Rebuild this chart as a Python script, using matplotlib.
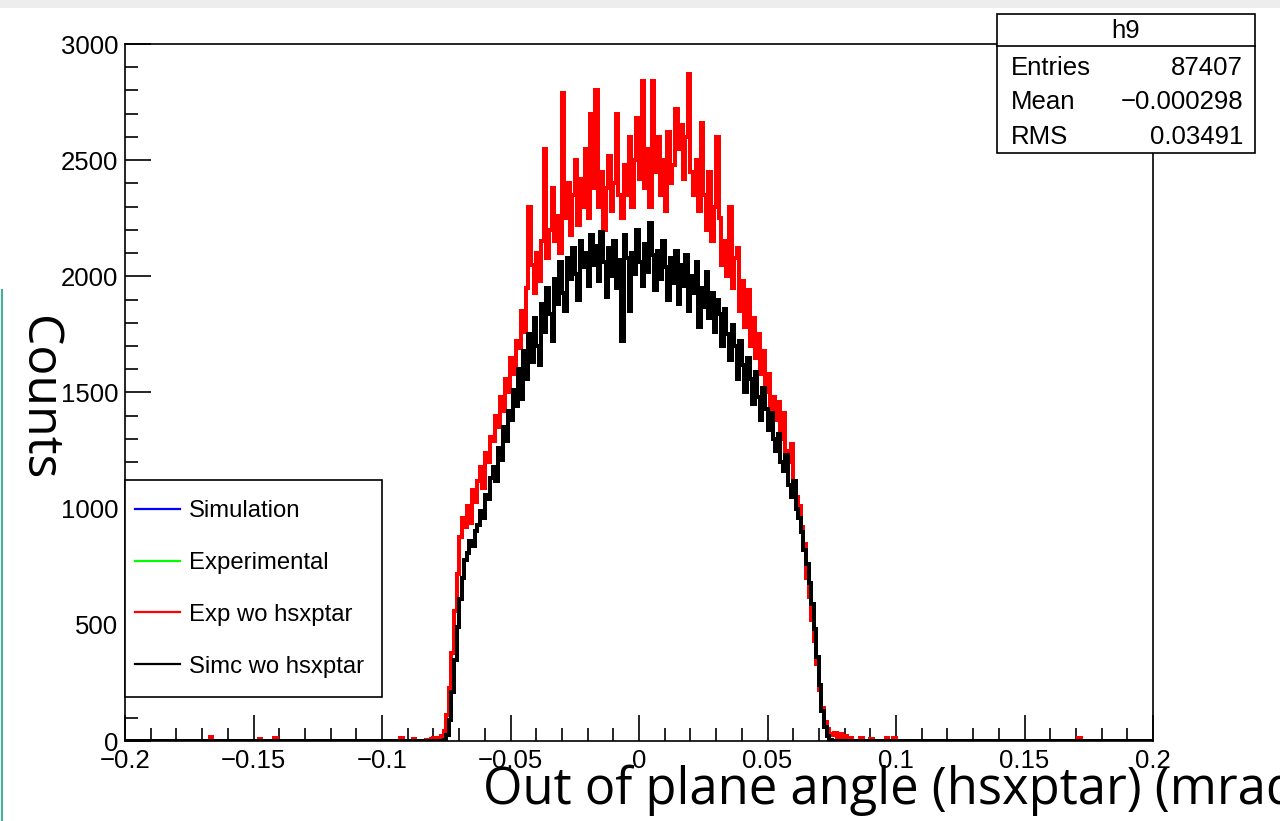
import numpy as np
import matplotlib
matplotlib.use("Agg")
import matplotlib.pyplot as plt
from matplotlib.lines import Line2D
from matplotlib.patches import Rectangle
from matplotlib.ticker import MultipleLocator, FixedLocator, FixedFormatter

W, H = 1280, 821

# ROOT style binning: 400 bins over [-0.2, 0.2]
x_min, x_max, n_bins = -0.2, 0.2, 400

# "Simc wo hsxptar" (black), consecutive bins starting at low edge -0.077
simc_start = -0.077
simc_counts = [
    0, 4, 25, 90, 210, 350, 490, 610, 700, 780,
    810, 860, 840, 905, 930, 990, 960, 1060, 1040, 1130,
    1180, 1120, 1260, 1210, 1350, 1290, 1420, 1380, 1510, 1440,
    1600, 1470, 1680, 1560, 1750, 1630, 1820, 1700, 1620, 1880,
    1760, 1950, 1840, 1720, 1990, 1880, 2060, 1930, 1850, 2080,
    1990, 2120, 2010, 1900, 2150, 2040, 2100, 1960, 2180, 2050,
    2130, 1980, 2190, 2060, 1910, 2120, 2000, 2150, 1950, 2070,
    1720, 2180, 2080, 1850, 2100, 2010, 2200, 2060, 1960, 2140,
    2020, 2230, 2090, 1940, 2110, 1990, 2150, 2040, 1900, 2080,
    1970, 2110, 1880, 2050, 1960, 2090, 1850, 2000, 1930, 2060,
    1780, 1950, 1870, 2020, 1820, 1930, 1760, 1900, 1840, 1700,
    1860, 1750, 1640, 1790, 1700, 1560, 1720, 1620, 1500, 1650,
    1560, 1450, 1590, 1480, 1380, 1520, 1430, 1340, 1410, 1300,
    1250, 1320, 1200, 1160, 1230, 1100, 1050, 1120, 1000, 960,
    900, 820, 760, 680, 590, 480, 360, 240, 130, 60, 20, 5,
]

# "Exp wo hsxptar" (red), consecutive bins starting at low edge -0.083
exp_start = -0.083
exp_counts = [
    5, 0, 8, 12, 6, 15,
    20, 45, 110, 230, 380, 560, 720, 880, 960, 920,
    1010, 940, 1080, 1030, 1120, 1180, 1090, 1240, 1200, 1310,
    1290, 1400, 1350, 1480, 1420, 1560, 1500, 1650, 1580, 1720,
    1690, 1850, 1760, 1950, 2300, 2050, 1930, 2100, 1980, 2150,
    2550, 2080, 2200, 2380, 2150, 2260, 2100, 2790, 2250, 2400,
    2180, 2350, 2500, 2220, 2420, 2300, 2550, 2250, 2700, 2380,
    2800, 2300, 2450, 2200, 2380, 2520, 2280, 2400, 2700, 2350,
    2250, 2480, 2350, 2600, 2300, 2500, 2680, 2420, 2840, 2380,
    2550, 2300, 2840, 2450, 2600, 2350, 2500, 2280, 2620, 2400,
    2480, 2720, 2550, 2650, 2420, 2600, 2870, 2450, 2350, 2500,
    2280, 2660, 2350, 2200, 2450, 2150, 2300, 2600, 2250, 2050,
    2150, 2000, 2300, 1950, 2080, 2120, 1850, 1980, 1780, 1940,
    1700, 1820, 1650, 1750, 1580, 1680, 1500, 1580, 1420, 1480,
    1380, 1460, 1300, 1410, 1250, 1200, 1280, 1100, 1050, 1010,
    920, 850, 700, 620, 520, 430, 330, 220, 140, 80, 50, 30,
    25, 35, 15, 30, 10, 20, 0, 12,
]

# isolated low entries of the red histogram (bin low edge, count)
exp_tail_edges = [-0.167, -0.148, -0.142, -0.093, -0.088, 0.086, 0.090, 0.096, 0.099, 0.171]
exp_tail_counts = [18, 8, 15, 15, 10, 15, 10, 12, 15, 12]

legend_labels = ["Simulation", "Experimental", "Exp wo hsxptar", "Simc wo hsxptar"]
legend_colors = ["#0000ff", "#00ff00", "#ff0000", "#000000"]

stats_title = "h9"
stats_names = ["Entries", "Mean", "RMS"]
stats_values = ["87407", "\u22120.000298", "0.03491"]

xticks = [-0.2, -0.15, -0.1, -0.05, 0.0, 0.05, 0.1, 0.15, 0.2]
xtick_labels = ["\u22120.2", "\u22120.15", "\u22120.1", "\u22120.05", "0", "0.05", "0.1", "0.15", "0.2"]
yticks = [0, 500, 1000, 1500, 2000, 2500, 3000]
ytick_labels = ["0", "500", "1000", "1500", "2000", "2500", "3000"]


def px(x, y):
    # pixel position (from top-left) -> figure fraction
    return x / W, 1 - y / H


edges = np.linspace(x_min, x_max, n_bins + 1)
bin_w = (x_max - x_min) / n_bins


def fill(start, counts):
    h = np.zeros(n_bins)
    i0 = int(round((start - x_min) / bin_w))
    h[i0:i0 + len(counts)] = counts
    return h


exp_h = fill(exp_start, exp_counts)
for e, c in zip(exp_tail_edges, exp_tail_counts):
    exp_h[int(round((e - x_min) / bin_w))] = c
simc_h = fill(simc_start, simc_counts)

plt.rcParams["font.family"] = ["Liberation Sans", "DejaVu Sans"]

fig = plt.figure(figsize=(W / 100, H / 100), dpi=100)
ax = fig.add_axes([125 / W, (H - 741) / H, (1153 - 125) / W, (741 - 44) / H])

ax.stairs(exp_h, edges, color="#ff0000", lw=1.6, antialiased=False, zorder=3)
ax.stairs(simc_h, edges, color="#000000", lw=1.6, antialiased=False, zorder=4)

ax.set_xlim(x_min, x_max)
ax.set_ylim(0, 3000)

ax.xaxis.set_major_locator(FixedLocator(xticks))
ax.xaxis.set_major_formatter(FixedFormatter(xtick_labels))
ax.yaxis.set_major_locator(FixedLocator(yticks))
ax.yaxis.set_major_formatter(FixedFormatter(ytick_labels))
ax.xaxis.set_minor_locator(MultipleLocator(0.01))
ax.yaxis.set_minor_locator(MultipleLocator(100))
ax.tick_params(which="both", direction="in", width=1.2, top=False, right=False,
               labelsize=18.5, colors="black")
ax.tick_params(which="major", length=18.5)
ax.tick_params(which="minor", length=9.5)
ax.tick_params(axis="y", pad=5)
ax.tick_params(axis="x", pad=6)
for s in ax.spines.values():
    s.set_linewidth(1.2)

# axis titles
ax.set_xlabel("Out of plane angle (hsxptar) (mrad)", fontsize=36.5, family="Open Sans",
              ha="left", va="center")
ax.xaxis.set_label_coords((483 - 125) / 1028, (741 - 790) / 697)
ax.set_ylabel("Counts", fontsize=36, family="Open Sans", rotation=270,
              ha="center", va="center")
ax.yaxis.set_label_coords((38 - 125) / 1028, (741 - 398) / 697)

# legend: frame drawn separately over (125, 480) - (382, 697) pixels
ax.add_patch(Rectangle(px(125, 697), (382 - 125) / W, (697 - 480) / H,
                       transform=fig.transFigure, facecolor="white",
                       edgecolor="black", lw=1.2, zorder=9, clip_on=False))
handles = [Line2D([], [], color=c, lw=1.6) for c in legend_colors]
leg = ax.legend(handles, legend_labels, loc="upper left",
                bbox_to_anchor=px(125, 490), bbox_transform=fig.transFigure,
                fontsize=17.2, handlelength=1.9, handletextpad=0.35,
                labelspacing=1.25, borderpad=0.42, borderaxespad=0,
                frameon=False)
leg.set_zorder(10)

# stats box
bx0, by0, bx1, by1 = 997, 14, 1255, 153
fig.add_artist(Rectangle(px(bx0, by1), (bx1 - bx0) / W, (by1 - by0) / H,
                         transform=fig.transFigure, facecolor="white",
                         edgecolor="black", lw=1.2, zorder=20))
fig.add_artist(Line2D([bx0 / W, bx1 / W], [1 - 46 / H] * 2, transform=fig.transFigure,
                      color="black", lw=1.2, zorder=21))
fig.text(*px((bx0 + bx1) / 2, 31), stats_title, ha="center", va="center",
         fontsize=18.5, zorder=22)
for row_y, name, val in zip([68, 102, 137], stats_names, stats_values):
    fig.text(*px(1011, row_y), name, ha="left", va="center", fontsize=18.5, zorder=22)
    fig.text(*px(1243, row_y), val, ha="right", va="center", fontsize=18.5, zorder=22)

# screenshot frame bits: gray strip on top and teal edge on the left
fig.add_artist(Rectangle((0, 1 - 8 / H), 1, 8 / H, transform=fig.transFigure,
                         facecolor="#ededed", edgecolor="none", zorder=0))
fig.add_artist(Line2D([1.5 / W] * 2, [0, 1 - 290 / H], transform=fig.transFigure,
                      color="#3fb393", lw=1.5))

fig.savefig("out.png", dpi=100)
